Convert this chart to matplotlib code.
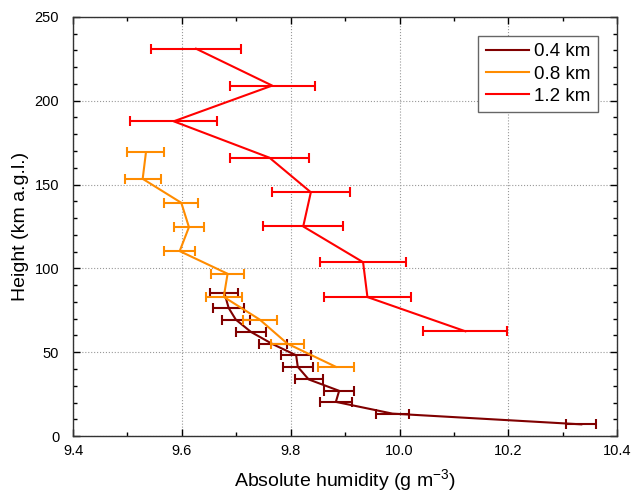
import matplotlib
matplotlib.use("Agg")
import matplotlib.pyplot as plt
from matplotlib.ticker import MultipleLocator
from matplotlib.lines import Line2D

plt.rcParams['font.family'] = ['Liberation Sans', 'DejaVu Sans']
plt.rcParams['mathtext.default'] = 'regular'

# 0.4 km series
h04 = [85.5, 76.4, 69.5, 62.1, 54.8, 48.2, 41.3, 33.8, 27.0, 20.4, 13.4, 7.0]
x04 = [9.678, 9.686, 9.699, 9.727, 9.767, 9.810, 9.813, 9.833, 9.889, 9.883, 9.987, 10.334]
e04 = [0.026, 0.028, 0.026, 0.028, 0.026, 0.028, 0.0275, 0.026, 0.027, 0.029, 0.030, 0.0275]

# 0.8 km series
h08 = [169.2, 153.4, 139.1, 124.6, 110.3, 96.8, 83.0, 69.5, 55.1, 41.3]
x08 = [9.534, 9.528, 9.599, 9.613, 9.596, 9.684, 9.677, 9.743, 9.794, 9.883]
e08 = [0.034, 0.033, 0.031, 0.028, 0.029, 0.031, 0.033, 0.031, 0.030, 0.033]

# 1.2 km series
h12 = [231.0, 209.0, 187.7, 166.0, 145.4, 125.0, 103.7, 82.9, 62.5]
x12 = [9.626, 9.766, 9.585, 9.761, 9.837, 9.823, 9.933, 9.941, 10.121]
e12 = [0.082, 0.078, 0.080, 0.073, 0.072, 0.073, 0.079, 0.080, 0.077]

labels = ['0.4 km', '0.8 km', '1.2 km']
colors = ['#800000', '#FF8C00', '#FF0000']
xticks = [9.4, 9.6, 9.8, 10.0, 10.2, 10.4]
xticklabels = ['9.4', '9.6', '9.8', '10.0', '10.2', '10.4']

fig = plt.figure(figsize=(6.35, 4.95), dpi=100)
ax = fig.add_axes([0.115, 0.119, 0.857, 0.847])

for xs, hs, es, lab, c, z in [(x04, h04, e04, labels[0], colors[0], 3),
                               (x08, h08, e08, labels[1], colors[1], 4),
                               (x12, h12, e12, labels[2], colors[2], 5)]:
    ax.errorbar(xs, hs, xerr=es, color=c, ecolor=c, lw=1.5, elinewidth=1.5,
                capsize=3.6, capthick=1.5, label=lab, zorder=z)

ax.set_xlim(9.4, 10.4)
ax.set_ylim(0, 250)
ax.xaxis.set_minor_locator(MultipleLocator(0.1))
ax.yaxis.set_major_locator(MultipleLocator(50))
ax.yaxis.set_minor_locator(MultipleLocator(10))
ax.set_xticks(xticks)
ax.set_xticklabels(xticklabels)

ax.tick_params(which='both', direction='in', top=True, right=True, labelsize=10.5)
ax.tick_params(which='major', length=5, width=1)
ax.tick_params(which='minor', length=3, width=1)
ax.tick_params(axis='x', which='major', pad=6)
ax.tick_params(axis='y', which='major', pad=10)
ax.grid(True, which='major', linestyle=':', color='#999999', linewidth=0.8)
ax.set_axisbelow(True)
for s in ax.spines.values():
    s.set_linewidth(1)
    s.set_color('#333333')

ax.set_xlabel('Absolute humidity (g m$^{-3}$)', fontsize=14, labelpad=6)
ax.set_ylabel('Height (km a.g.l.)', fontsize=14, labelpad=4)

hl = [Line2D([0], [0], color=c, lw=1.5) for c in colors]
leg = ax.legend(hl, labels, loc='upper right', fontsize=13.5, fancybox=False,
                edgecolor='#666666', framealpha=1, handlelength=2.3,
                borderaxespad=1.0, labelspacing=0.28, handletextpad=0.3,
                borderpad=0.4)
leg.get_frame().set_linewidth(1)

fig.savefig('out.png', dpi=100)
